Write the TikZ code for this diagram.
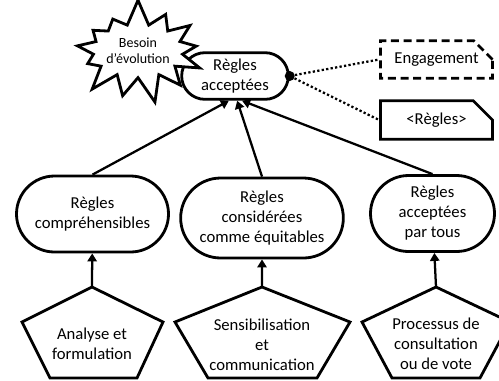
\documentclass[tikz,border=0pt]{standalone}
\usepackage{fontspec}
\setmainfont{Carlito}
\usetikzlibrary{shapes.misc, shapes.symbols, arrows.meta, positioning, calc}

\tikzset{
    goal/.style={draw, rounded rectangle, line width=2.1pt, fill=white, align=center, inner sep=2pt, font=\fontsize{12.5}{15}\selectfont},
    tactic/.style={align=center, inner sep=0pt, font=\fontsize{12.5}{15}\selectfont},
    pentline/.style={line width=2.1pt, line join=miter},
    link/.style={-{Triangle[width=7pt,length=6pt]}, line width=1.7pt},
    trace/.style={line width=1.7pt, dash pattern=on 1.7pt off 1.7pt},
    note/.style={draw, chamfered rectangle, chamfered rectangle corners=north east, chamfered rectangle xsep=8pt, chamfered rectangle ysep=7pt, line width=2.1pt, fill=white, minimum width=84pt, minimum height=25pt, inner sep=2pt, font=\fontsize{12.5}{15}\selectfont}
}

\begin{document}
\begin{tikzpicture}[x=0.75pt, y=-0.75pt]
    \useasboundingbox (0,0) rectangle (499,380);
    \clip (0,0) rectangle (499,380);

    % top goal and its context
    \node[goal, minimum width=84pt, minimum height=35pt] (acc) at (235,76) {Règles\\acceptées};
    \node[draw, starburst, starburst points=13, starburst point height=20pt, random starburst=7, line width=2.1pt, fill=white, minimum width=102pt, minimum height=80pt, align=center, inner sep=0pt, font=\fontsize{10.5}{12}\selectfont] (need) at (138,51) {Besoin\\d'évolution};
    \node[circle, fill, inner sep=0pt, minimum size=7.5pt] (dot) at (acc.east) {};
    \node[note, dash pattern=on 6pt off 3.5pt] (eng) at (436.5,59.5) {Engagement};
    \node[note] (rgl) at (436.5,120) {<Règles>};
    \draw[trace] (dot) -- (eng.west);
    \draw[trace] (dot) -- (rgl.west);

    % sub-goals
    \node[goal, minimum width=118pt, minimum height=57pt] (r1) at (92.5,214) {Règles\\compréhensibles};
    \node[goal, minimum width=126pt, minimum height=60pt] (r2) at (262,218) {Règles\\considérées\\comme équitables};
    \node[goal, minimum width=97pt, minimum height=57pt] (r3) at (432.5,213.5) {Règles\\acceptées\\par tous};
    \draw[link] (r1.north) -- (acc.256);
    \draw[link] (r2.north) -- (acc.275);
    \draw[link] (r3.north) -- (acc.286);

    % tactics
    \draw[pentline] (92,287) -- (163,322) -- (137,378) -- (50,378) -- (22,322) -- cycle;
    \draw[pentline] (262,287) -- (350,322) -- (317,378) -- (208,378) -- (175,322) -- cycle;
    \draw[pentline] (436,287) -- (510,322) -- (480,378) -- (392,378) -- (362,322) -- cycle;
    \coordinate (t1) at (92,287);
    \coordinate (t2) at (262,287);
    \coordinate (t3) at (436,287);
    \node[tactic] (p1) at (92,344) {Analyse et\\formulation};
    \node[tactic] (p2) at (262,345) {Sensibilisation\\et\\communication};
    \node[tactic] (p3) at (436,344) {Processus de\\consultation\\ou de vote};
    \draw[link] (t1) -- (r1);
    \draw[link] (t2) -- (r2);
    \draw[link] (t3) -- (r3);
\end{tikzpicture}
\end{document}
